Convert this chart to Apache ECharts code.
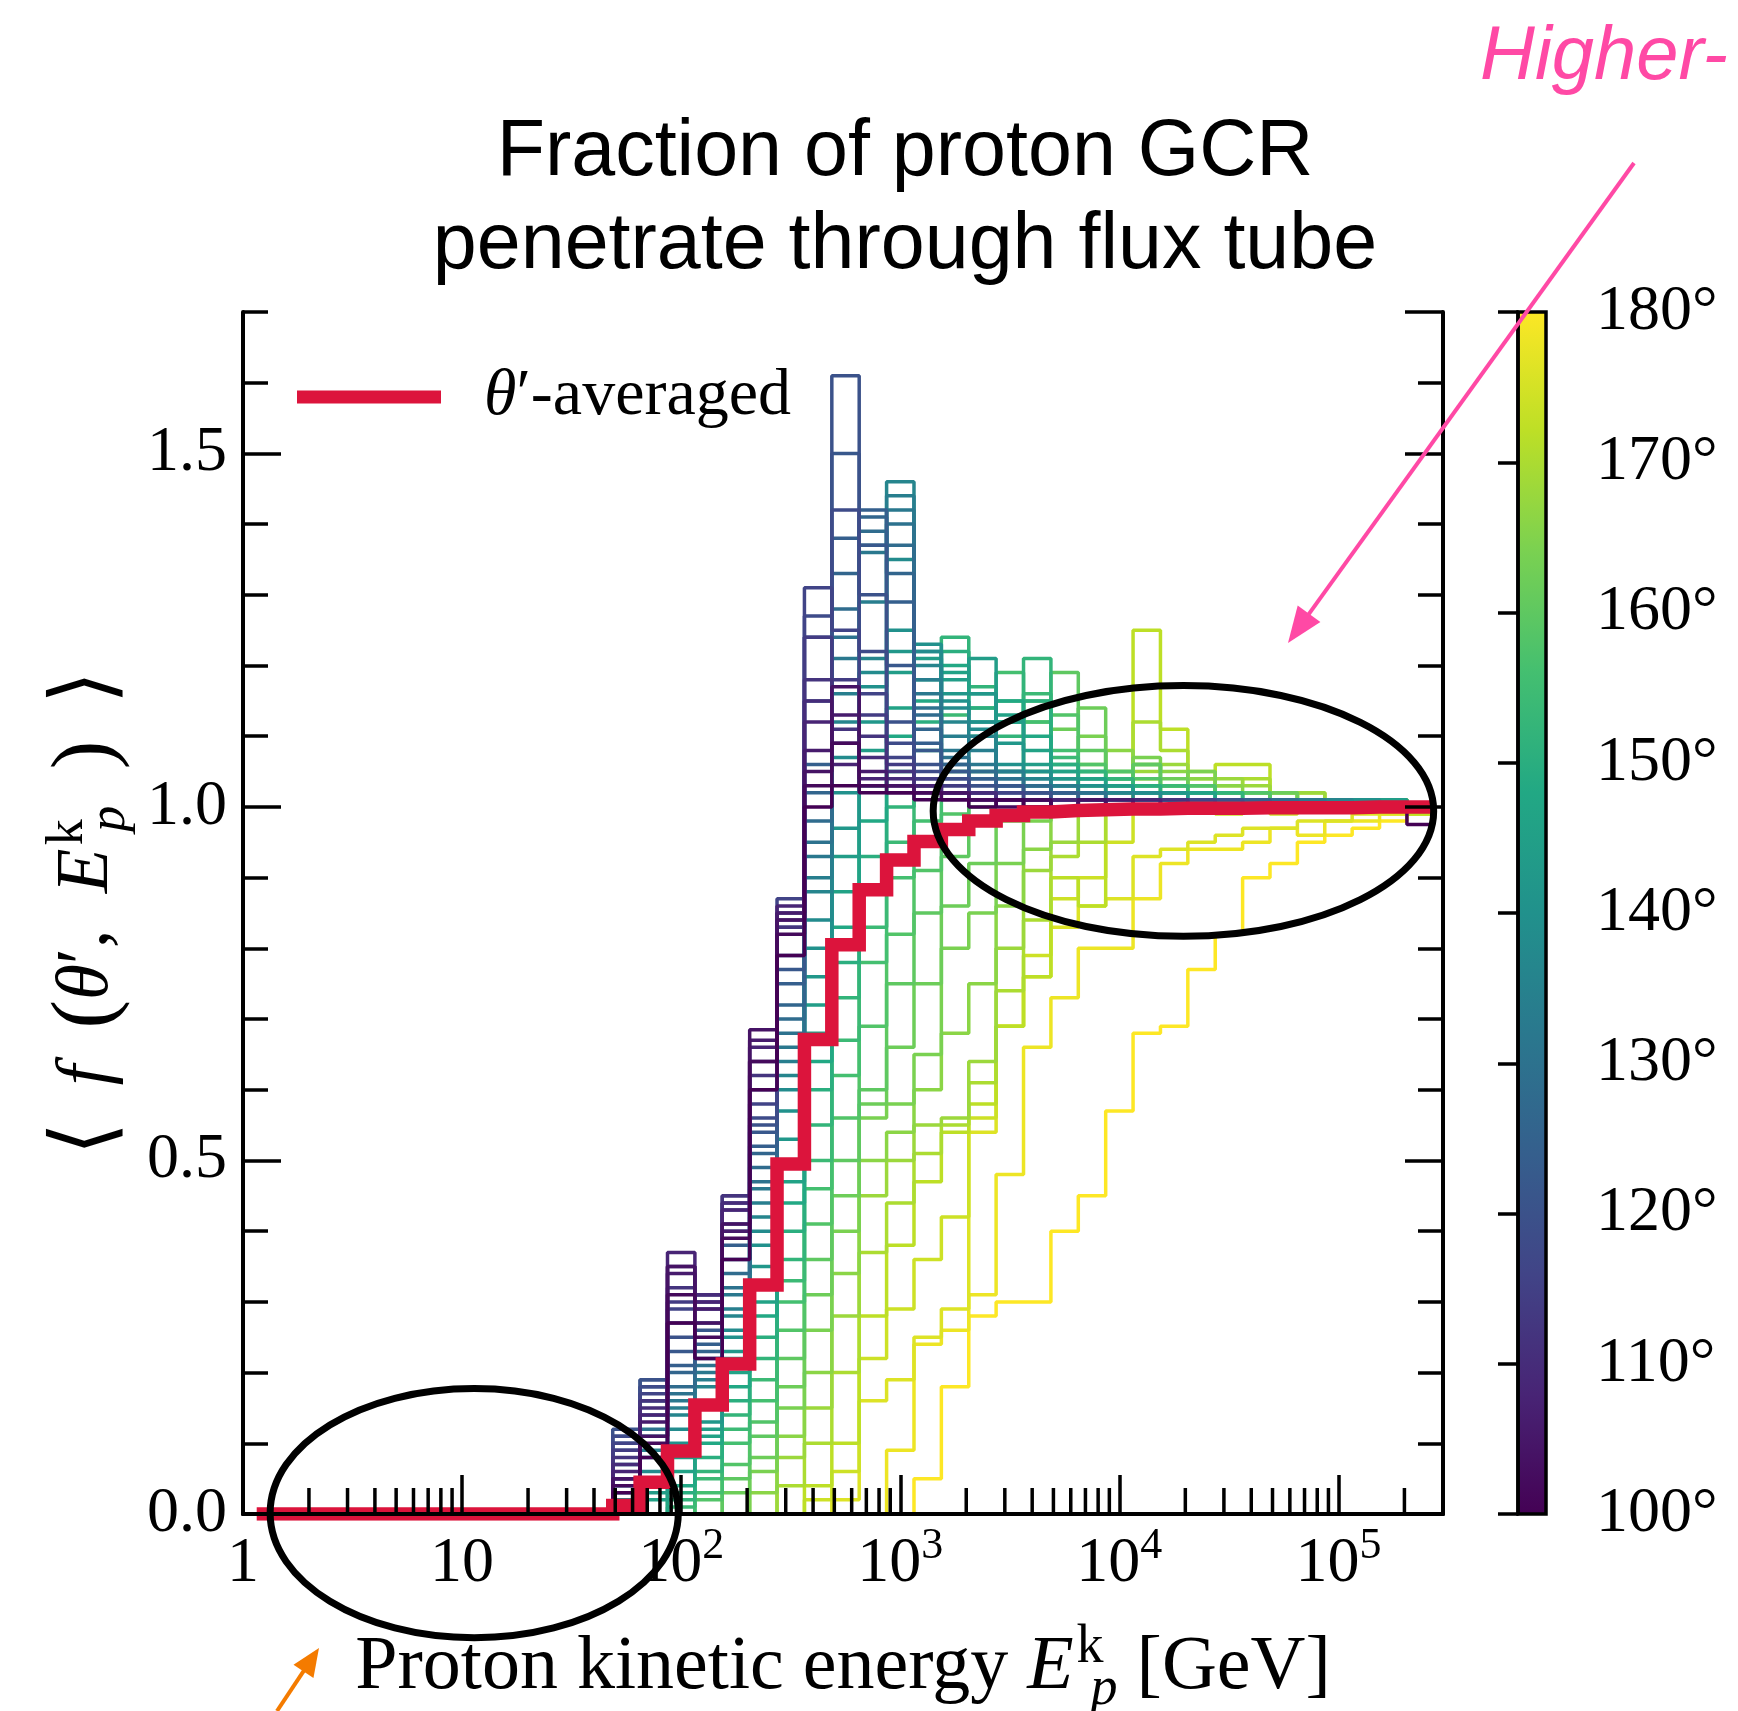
<!DOCTYPE html>
<html><head><meta charset="utf-8">
<script src="https://cdn.jsdelivr.net/npm/echarts/dist/echarts.min.js"></script>
<style>html,body{margin:0;padding:0;background:#fff}#c{width:1738px;height:1711px}</style>
</head><body><div id="c"></div>
<script>
// ---------------- DATA ----------------
// histogram bin edges (GeV), 43 bins
const binEdgesGeV = [1.155,1.540,2.054,2.738,3.652,4.870,6.494,8.660,
  11.55,15.40,20.54,27.38,36.52,48.70,64.94,86.60,
  115.5,154.0,205.4,273.8,365.2,487.0,649.4,866.0,
  1155,1540,2054,2738,3652,4870,6494,8660,
  11548,15399,20535,27384,36517,48697,64938,86596,
  115478,153993,205353,273842];

// angles theta' (deg) of the individual curves
const angles = [100,102,104,106,108,110,112,114,116,118,120,122,124,126,128,130,132,134,136,138,140,
  142,144,146,148,150,152,154,156,158,160,162,164,166,168,170,172,174,176,178,180];

// per-angle fraction in each bin (bins 0..42); first 12 bins are empty
const Z12 = [0,0,0,0,0,0,0,0,0,0,0,0];
const theta100 = Z12.concat([0,.03,.08,.27,.22,.36,.60,.79,1.00,1.03, 1.02,1.02,1.01,1.01,1.00,1.01,1.00,1.00,1.00,1.00, 1.00,1.00,1.00,1.00,1.00,1.00,1.00,1.00,1.00,1.00, .975]);
const theta102 = Z12.concat([0,.04,.10,.31,.25,.39,.64,.82,1.03,1.09, 1.03,1.02,1.02,1.01,1.01,1.00,1.01,1.00,1.00,1.00, 1.00,1.00,1.00,1.00,1.00,1.00,1.00,1.00,1.00,1.00, 1.00]);
const theta104 = Z12.concat([0,.05,.11,.35,.27,.41,.685,.84,1.05,1.17, 1.03,1.03,1.02,1.02,1.01,1.01,1.01,1.00,1.01,1.00, 1.00,1.00,1.00,1.00,1.00,1.00,1.00,1.00,1.00,1.00, 1.00]);
const theta106 = Z12.concat([0,.05,.13,.34,.29,.40,.67,.85,1.08,1.13, 1.05,1.03,1.02,1.02,1.01,1.01,1.01,1.00,1.00,1.01, 1.00,1.00,1.00,1.00,1.00,1.00,1.00,1.00,1.00,1.00, 1.00]);
const theta108 = Z12.concat([0,.06,.14,.37,.30,.43,.66,.86,1.12,1.06, 1.04,1.03,1.03,1.02,1.01,1.01,1.00,1.01,1.00,1.00, 1.01,1.00,1.00,1.00,1.00,1.00,1.00,1.00,1.00,1.00, 1.00]);
const theta110 = Z12.concat([0,.07,.15,.35,.31,.44,.64,.84,1.15,1.09, 1.07,1.04,1.03,1.02,1.02,1.01,1.01,1.00,1.01,1.00, 1.00,1.00,1.00,1.00,1.00,1.00,1.00,1.00,1.00,1.00, 1.00]);
const theta112 = Z12.concat([0,.08,.16,.32,.31,.45,.62,.83,1.18,1.11, 1.10,1.05,1.03,1.02,1.02,1.01,1.01,1.01,1.00,1.00, 1.00,1.01,1.00,1.00,1.00,1.00,1.00,1.00,1.00,1.00, 1.00]);
const theta114 = Z12.concat([0,.09,.16,.30,.31,.45,.60,.85,1.24,1.18, 1.13,1.06,1.04,1.03,1.02,1.01,1.01,1.01,1.00,1.00, 1.00,1.00,1.00,1.00,1.00,1.00,1.00,1.00,1.00,1.00, 1.00]);
const theta116 = Z12.concat([0,.10,.17,.29,.30,.44,.58,.87,1.31,1.25, 1.16,1.07,1.04,1.03,1.02,1.02,1.01,1.01,1.01,1.00, 1.00,1.00,1.01,1.00,1.00,1.00,1.00,1.00,1.00,1.00, 1.00]);
const theta118 = Z12.concat([0,.11,.18,.27,.29,.43,.56,.83,1.27,1.42, 1.22,1.09,1.05,1.04,1.02,1.02,1.01,1.01,1.01,1.00, 1.00,1.00,1.00,1.00,1.00,1.00,1.00,1.00,1.00,1.00, 1.00]);
const theta120 = Z12.concat([0,.12,.19,.25,.27,.41,.55,.79,1.24,1.61, 1.30,1.12,1.06,1.04,1.03,1.02,1.02,1.01,1.01,1.01, 1.00,1.00,1.00,1.01,1.00,1.00,1.00,1.00,1.00,1.00, 1.00]);
const theta122 = Z12.concat([0,.11,.19,.23,.26,.40,.54,.77,1.15,1.50, 1.37,1.20,1.08,1.05,1.03,1.03,1.02,1.01,1.01,1.01, 1.01,1.00,1.00,1.00,1.00,1.00,1.00,1.00,1.00,1.00, 1.00]);
const theta124 = Z12.concat([0,.10,.18,.21,.24,.38,.52,.75,1.06,1.38, 1.42,1.29,1.09,1.05,1.04,1.03,1.02,1.02,1.01,1.01, 1.01,1.00,1.00,1.00,1.01,1.00,1.00,1.00,1.00,1.00, 1.00]);
const theta126 = Z12.concat([0,.09,.16,.20,.23,.36,.51,.72,1.02,1.33, 1.41,1.33,1.11,1.06,1.04,1.03,1.02,1.02,1.01,1.01, 1.01,1.01,1.00,1.00,1.00,1.00,1.00,1.00,1.00,1.00, 1.00]);
const theta128 = Z12.concat([0,.07,.14,.18,.22,.34,.49,.70,.98,1.28, 1.39,1.37,1.13,1.06,1.05,1.03,1.03,1.02,1.01,1.01, 1.01,1.01,1.00,1.00,1.00,1.01,1.00,1.00,1.00,1.00, 1.00]);
const theta130 = Z12.concat([0,.05,.12,.17,.21,.32,.47,.68,.95,1.24, 1.37,1.40,1.14,1.07,1.05,1.04,1.03,1.02,1.02,1.01, 1.01,1.01,1.01,1.00,1.00,1.00,1.00,1.00,1.00,1.00, 1.00]);
const theta132 = Z12.concat([0,.04,.11,.16,.20,.31,.46,.66,.93,1.21, 1.36,1.42,1.16,1.08,1.06,1.04,1.03,1.02,1.02,1.01, 1.01,1.01,1.01,1.00,1.00,1.00,1.01,1.00,1.00,1.00, 1.00]);
const theta134 = Z12.concat([0,.03,.09,.15,.19,.29,.44,.64,.90,1.16, 1.29,1.44,1.18,1.10,1.08,1.05,1.03,1.03,1.02,1.01, 1.01,1.01,1.01,1.01,1.00,1.00,1.00,1.00,1.00,1.00, 1.00]);
const theta136 = Z12.concat([0,.02,.08,.14,.18,.28,.42,.62,.88,1.12, 1.21,1.46,1.20,1.12,1.10,1.05,1.04,1.03,1.02,1.02, 1.01,1.01,1.01,1.01,1.00,1.00,1.00,1.01,1.00,1.00, 1.00]);
const theta138 = Z12.concat([0,.01,.06,.12,.16,.26,.40,.60,.84,1.07, 1.19,1.35,1.22,1.14,1.11,1.05,1.04,1.03,1.02,1.02, 1.02,1.01,1.01,1.01,1.01,1.00,1.00,1.00,1.00,1.00, 1.00]);
const theta140 = Z12.concat([0,0,.05,.10,.15,.25,.38,.57,.80,1.02, 1.17,1.25,1.23,1.15,1.12,1.06,1.05,1.03,1.03,1.02, 1.02,1.01,1.01,1.01,1.01,1.00,1.00,1.00,1.01,1.00, 1.00]);
const theta142 = Z12.concat([0,0,.04,.09,.13,.23,.35,.53,.76,.97, 1.12,1.22,1.22,1.16,1.16,1.09,1.05,1.04,1.03,1.02, 1.02,1.02,1.01,1.01,1.01,1.01,1.00,1.00,1.00,1.00, 1.00]);
const theta144 = Z12.concat([0,0,.03,.08,.12,.22,.33,.50,.72,.93, 1.08,1.19,1.21,1.18,1.21,1.12,1.06,1.04,1.03,1.03, 1.02,1.02,1.01,1.01,1.01,1.01,1.00,1.00,1.00,1.01, 1.00]);
const theta146 = Z12.concat([0,0,.02,.06,.11,.20,.30,.47,.68,.88, 1.03,1.14,1.18,1.19,1.16,1.13,1.08,1.05,1.04,1.03, 1.02,1.02,1.02,1.01,1.01,1.01,1.01,1.00,1.00,1.00, 1.00]);
const theta148 = Z12.concat([0,0,0,.04,.10,.18,.28,.44,.64,.83, .98,1.10,1.15,1.20,1.12,1.15,1.10,1.05,1.04,1.03, 1.02,1.02,1.02,1.01,1.01,1.01,1.01,1.00,1.00,1.00, 1.00]);
const theta150 = Z12.concat([0,0,0,.03,.08,.16,.25,.40,.60,.78, .93,1.05,1.12,1.22,1.14,1.12,1.15,1.06,1.04,1.03, 1.03,1.02,1.02,1.01,1.01,1.01,1.01,1.00,1.00,1.00, 1.00]);
const theta152 = Z12.concat([0,0,0,.02,.06,.14,.22,.36,.55,.73, .88,1.00,1.08,1.24,1.17,1.10,1.21,1.06,1.05,1.04, 1.03,1.02,1.02,1.02,1.01,1.01,1.01,1.01,1.00,1.00, 1.00]);
const theta154 = Z12.concat([0,0,0,.01,.05,.12,.19,.33,.50,.67, .83,.95,1.03,1.13,1.14,1.15,1.16,1.07,1.05,1.04, 1.03,1.03,1.02,1.02,1.01,1.01,1.01,1.01,1.00,1.00, 1.00]);
const theta156 = Z12.concat([0,0,0,0,.03,.10,.16,.30,.46,.62, .78,.90,.98,1.05,1.10,1.19,1.12,1.08,1.05,1.04, 1.03,1.03,1.02,1.02,1.01,1.01,1.01,1.01,1.01,1.00, 1.00]);
const theta158 = Z12.concat([0,0,0,0,.02,.07,.13,.26,.41,.56, .69,.82,.91,.99,1.05,1.12,1.15,1.13,1.06,1.05, 1.04,1.03,1.03,1.02,1.02,1.01,1.01,1.01,1.01,1.00, 1.00]);
const theta160 = Z12.concat([0,0,0,0,0,.05,.11,.22,.36,.50, .60,.75,.85,.93,1.00,1.05,1.12,1.19,1.08,1.04, 1.06,1.03,1.03,1.02,1.02,1.01,1.01,1.01,1.01,1.01, 1.00]);
const theta162 = Z12.concat([0,0,0,0,0,.03,.08,.18,.31,.45, .58,.66,.75,.86,.92,.98,1.05,1.11,1.14,1.05, 1.06,1.04,1.03,1.02,1.02,1.02,1.01,1.01,1.01,1.01, 1.00]);
const theta164 = Z12.concat([0,0,0,0,0,0,.06,.15,.26,.40, .56,.58,.65,.80,.85,.92,.98,1.02,1.10,1.05, 1.07,1.03,1.05,1.02,1.02,1.02,1.01,1.01,1.01,1.01, 1.00]);
const theta166 = Z12.concat([0,0,0,0,0,0,.03,.11,.20,.34, .50,.54,.60,.68,.75,.86,.94,.99,1.06,1.08, 1.06,1.05,1.04,1.03,1.02,1.02,1.01,1.01,1.01,1.01, 1.00]);
const theta168 = Z12.concat([0,0,0,0,0,0,0,.08,.15,.28, .45,.50,.55,.56,.64,.80,.91,.95,1.03,1.02, 1.05,1.06,1.02,1.04,1.03,1.01,1.02,1.01,1.01,1.00, 1.00]);
const theta170 = Z12.concat([0,0,0,0,0,0,0,.04,.10,.20, .37,.44,.51,.55,.61,.74,.84,.93,.95,1.00, 1.12,1.08,1.05,1.03,1.04,1.02,1.02,1.01,1.01,1.00, 1.00]);
const theta172 = Z12.concat([0,0,0,0,0,0,0,0,.04,.10, .28,.38,.47,.54,.58,.69,.76,.90,.86,1.03, 1.25,1.11,1.04,1.06,1.06,1.01,1.02,1.01,1.00,1.00, .99]);
const theta174 = Z12.concat([0,0,0,0,0,0,0,0,.02,.06, .22,.29,.36,.42,.56,.69,.79,.87,.90,.95, 1.04,1.01,1.00,.99,1.00,.99,1.00,1.00,1.00,1.00, .99]);
const theta176 = Z12.concat([0,0,0,0,0,0,0,0,0,.02, .16,.19,.25,.29,.54,.69,.76,.83,.86,.87, .93,.94,.95,.96,.97,.97,.98,.98,.99,.99, 1.00]);
const theta178 = Z12.concat([0,0,0,0,0,0,0,0,0,0, 0,.09,.24,.26,.31,.48,.66,.73,.80,.80, .87,.92,.94,.94,.95,.97,.96,.98,.98,.99, .99]);
const theta180 = Z12.concat([0,0,0,0,0,0,0,0,0,0, 0,0,.05,.18,.28,.30,.30,.40,.45,.57, .68,.69,.77,.82,.90,.92,.95,.96,.97,.98, .99]);

const thetaAveraged = Z12.concat([0,.012,.045,.089,.154,.212,.324,.495,.671,.805, .883,.925,.951,.968,.980,.988,.993,.995,.996,.997, .997,.998,.998,.998,.999,.999,.999,.999,1.0,1.0, 1.0]);

const curves = [theta100,theta102,theta104,theta106,theta108,theta110,theta112,theta114,theta116,theta118,theta120,
  theta122,theta124,theta126,theta128,theta130,theta132,theta134,theta136,theta138,theta140,
  theta142,theta144,theta146,theta148,theta150,theta152,theta154,theta156,theta158,theta160,
  theta162,theta164,theta166,theta168,theta170,theta172,theta174,theta176,theta178,theta180];

const xMinorTicks = [2,3,4,5,6,7,8,9,20,30,40,50,60,70,80,90,200,300,400,500,600,700,800,900,
  2000,3000,4000,5000,6000,7000,8000,9000,20000,30000,40000,50000,60000,70000,80000,90000,200000];
const xRange = [1, 3e5];
const yRange = [0, 1.7];
const colorbarTicks = [100,110,120,130,140,150,160,170,180];

// annotation ellipses in data space
const ellipseLow = {xMin:1.33, xMax:97, yMin:-0.175, yMax:0.1775};
const ellipseHigh = {xMin:1413, xMax:2.72e5, yMin:0.817, yMax:1.1716};

// ---------------- STYLE HELPERS ----------------
const SERIF = '"Liberation Serif", "DejaVu Serif", serif';
const SANS = '"Liberation Sans", Arial, sans-serif';
const viridisStops = ['#440154','#482475','#414487','#355f8d','#2a788e','#21918c','#22a884','#44bf70','#7ad151','#bddf26','#fde725'];
function hex2rgb(h){return [parseInt(h.substr(1,2),16),parseInt(h.substr(3,2),16),parseInt(h.substr(5,2),16)];}
function viridis(t){
  t=Math.max(0,Math.min(1,t)); const s=t*10; const i=Math.min(9,Math.floor(s)); const f=s-i;
  const a=hex2rgb(viridisStops[i]), b=hex2rgb(viridisStops[i+1]);
  return 'rgb('+a.map((v,k)=>Math.round(v+(b[k]-v)*f)).join(',')+')';
}
function stepData(vals){
  const d=[];
  for(let b=0;b<vals.length;b++){ d.push([binEdgesGeV[b],vals[b]]); d.push([binEdgesGeV[b+1],vals[b]]); }
  return d;
}
const cmin = colorbarTicks[0], cmax = colorbarTicks[colorbarTicks.length-1];

const series = [];
for(let k=curves.length-1;k>=0;k--){
  series.push({type:'line', name:'theta'+angles[k], xAxisIndex:0, yAxisIndex:0, data:stepData(curves[k]),
    symbol:'none', showSymbol:false, silent:true, animation:false, z:2,
    lineStyle:{width:3.5, color:viridis((angles[k]-cmin)/(cmax-cmin))}});
}
series.push({type:'line', name:'θ′-averaged', xAxisIndex:0, yAxisIndex:0, data:stepData(thetaAveraged),
  symbol:'none', showSymbol:false, silent:true, animation:false, z:4,
  itemStyle:{color:'#dc143c'}, lineStyle:{width:13.5, color:'#dc143c', join:'miter'}});
series.push({type:'custom', xAxisIndex:0, yAxisIndex:0, silent:true, animation:false, z:20, clip:false,
  data:xMinorTicks.map(v=>[v,0]),
  renderItem:(params,api)=>{ const p=api.coord([api.value(0),0]);
    return {type:'line', shape:{x1:p[0],y1:p[1],x2:p[0],y2:p[1]-26}, style:{stroke:'#000',lineWidth:3.5}}; }});
series.push({type:'custom', xAxisIndex:2, yAxisIndex:4, silent:true, animation:false, z:2,
  data:[[0,cmin,cmax]],
  renderItem:(params,api)=>{ const p0=api.coord([0,cmax]); const p1=api.coord([1,cmin]);
    return {type:'rect', shape:{x:p0[0],y:p0[1],width:p1[0]-p0[0],height:p1[1]-p0[1]},
      style:{fill:new echarts.graphic.LinearGradient(0,1,0,0, viridisStops.map((c,i)=>({offset:i/10,color:c}))), stroke:'#000', lineWidth:3.5}}; }});

function richMath(fs){
  return {
    i:{fontFamily:SERIF, fontStyle:'italic', fontSize:fs, lineHeight:84, color:'#000'},
    b:{fontFamily:SERIF, fontSize:Math.round(fs*1.18), lineHeight:84, color:'#000'},
    sub:{fontFamily:SERIF, fontStyle:'italic', fontSize:Math.round(fs*0.71), lineHeight:60, padding:[44,0,0,0], color:'#000'},
    sup:{fontFamily:SERIF, fontSize:Math.round(fs*0.71), lineHeight:60, padding:[0,0,40,16], width:1, align:'left', color:'#000'}
  };
}

const axisLineStyle = {color:'#000', width:4};
const option = {
  animation:false,
  backgroundColor:'#fff',
  textStyle:{fontFamily:SERIF},
  title:{text:'Fraction of proton GCR\npenetrate through flux tube', left:905, top:107, textAlign:'center', padding:0,
    textStyle:{fontFamily:SANS, fontSize:79, fontWeight:'normal', color:'#000', lineHeight:93}},
  legend:{data:['θ′-averaged'], left:297, top:362, icon:'rect', itemWidth:144, itemHeight:13, padding:0, selectedMode:false,
    formatter:()=>'{i|θ}′-averaged',
    textStyle:{fontFamily:SERIF, fontSize:66, color:'#000', lineHeight:70,
      rich:{i:{fontFamily:SERIF, fontStyle:'italic', fontSize:66, lineHeight:70, padding:[0,0,0,38], color:'#000'}}}},
  grid:[
    {left:243, top:312, width:1200, height:1202, containLabel:false, outerBoundsMode:'none', show:false},
    {left:1518, top:312, width:28, height:1202, containLabel:false, outerBoundsMode:'none', show:false}
  ],
  xAxis:[
    {type:'log', logBase:10, gridIndex:0, position:'bottom', min:xRange[0], max:xRange[1], z:10,
      axisLine:{show:true, lineStyle:axisLineStyle}, axisTick:{show:true, inside:true, length:39, lineStyle:{color:'#000', width:3.5}},
      minorTick:{show:false}, splitLine:{show:false},
      axisLabel:{show:true, showMaxLabel:false, fontFamily:SERIF, fontSize:64, lineHeight:100, color:'#000', margin:0,
        formatter:v=>{const l=Math.log10(v); const e=Math.round(l); if(Math.abs(l-e)>1e-6) return ''; if(e===0) return '1'; if(e===1) return '10'; return '10{sup|'+e+'}';},
        rich:{sup:{fontFamily:SERIF, fontSize:44, lineHeight:44, padding:[0,0,35,0], color:'#000'}}},
      name:'Proton kinetic energy {i|E}{sup|k}{sub|p} [GeV]', nameLocation:'middle', nameGap:97,
      nameTextStyle:{fontFamily:SERIF, fontSize:76, lineHeight:84, color:'#000', rich:richMath(76)}},
    {type:'log', logBase:10, gridIndex:0, position:'top', min:xRange[0], max:xRange[1], z:10,
      axisLine:{show:true, lineStyle:axisLineStyle}, axisTick:{show:false}, axisLabel:{show:false}, splitLine:{show:false}},
    {type:'value', gridIndex:1, min:0, max:1, show:false}
  ],
  yAxis:[
    {type:'value', gridIndex:0, position:'left', min:yRange[0], max:yRange[1], interval:0.5, z:10,
      axisLine:{show:true, lineStyle:axisLineStyle}, axisTick:{show:true, inside:true, length:38, lineStyle:{color:'#000', width:3.5}},
      splitLine:{show:false},
      axisLabel:{show:true, showMaxLabel:false, fontFamily:SERIF, fontSize:64, color:'#000', margin:16, formatter:v=>v.toFixed(1)},
      name:'{b|⟨}  {i|f}  {b|(}{i|θ}′,  {i|E}{sup|k}{sub|p}  {b|)}  {b|⟩}', nameLocation:'middle', nameRotate:90, nameGap:108,
      nameTextStyle:{fontFamily:SERIF, fontSize:73, lineHeight:84, color:'#000', rich:richMath(73)}},
    {type:'value', gridIndex:0, position:'left', min:yRange[0], max:yRange[1], interval:0.1, z:10,
      axisLine:{show:false}, axisTick:{show:true, inside:true, length:25, lineStyle:{color:'#000', width:3.5}},
      splitLine:{show:false}, axisLabel:{show:false}},
    {type:'value', gridIndex:0, position:'right', min:yRange[0], max:yRange[1], interval:0.5, z:10,
      axisLine:{show:true, lineStyle:axisLineStyle}, axisTick:{show:true, inside:true, length:38, lineStyle:{color:'#000', width:3.5}},
      splitLine:{show:false}, axisLabel:{show:false}},
    {type:'value', gridIndex:0, position:'right', min:yRange[0], max:yRange[1], interval:0.1, z:10,
      axisLine:{show:false}, axisTick:{show:true, inside:true, length:25, lineStyle:{color:'#000', width:3.5}},
      splitLine:{show:false}, axisLabel:{show:false}},
    {type:'value', gridIndex:1, position:'right', min:cmin, max:cmax, interval:10, z:10,
      axisLine:{show:true, lineStyle:{color:'#000', width:3.5}}, axisTick:{show:true, inside:true, length:20, lineStyle:{color:'#000', width:3.5}},
      splitLine:{show:false},
      axisLabel:{show:true, fontFamily:SERIF, fontSize:64, color:'#000', margin:50, formatter:'{value}°'}}
  ],
  series:series
};

const chart = echarts.init(document.getElementById('c'), null, {renderer:'canvas', width:1738, height:1711});
chart.setOption(option);

// annotations
function ellipseFrom(e){
  const a=chart.convertToPixel({xAxisIndex:0,yAxisIndex:0},[e.xMin,e.yMax]);
  const b=chart.convertToPixel({xAxisIndex:0,yAxisIndex:0},[e.xMax,e.yMin]);
  return {type:'ellipse', z:100, silent:true, shape:{cx:(a[0]+b[0])/2, cy:(a[1]+b[1])/2, rx:Math.abs(b[0]-a[0])/2, ry:Math.abs(b[1]-a[1])/2},
    style:{fill:null, stroke:'#000', lineWidth:7}};
}
function arrow(x0,y0,x1,y1,color,w,L,W){
  const dx=x1-x0, dy=y1-y0, len=Math.hypot(dx,dy), ux=dx/len, uy=dy/len, nx=-uy, ny=ux;
  const bx=x1-ux*L, by=y1-uy*L;
  return [
    {type:'line', z:100, silent:true, shape:{x1:x0,y1:y0,x2:bx+ux*2,y2:by+uy*2}, style:{stroke:color, lineWidth:w}},
    {type:'polygon', z:100, silent:true, shape:{points:[[x1,y1],[bx+nx*W,by+ny*W],[bx-nx*W,by-ny*W]]}, style:{fill:color}}
  ];
}
chart.setOption({graphic:[
  ellipseFrom(ellipseLow), ellipseFrom(ellipseHigh),
  ...arrow(1634,163,1288,643,'#ff49a5',4,36,14),
  ...arrow(277,1711,319,1648,'#f47b00',4,28,12),
  {type:'text', z:100, silent:true, left:1480, top:20, style:{text:'Higher-', font:'italic 76px '+SANS, fill:'#ff49a5'}}
]});
</script></body></html>
